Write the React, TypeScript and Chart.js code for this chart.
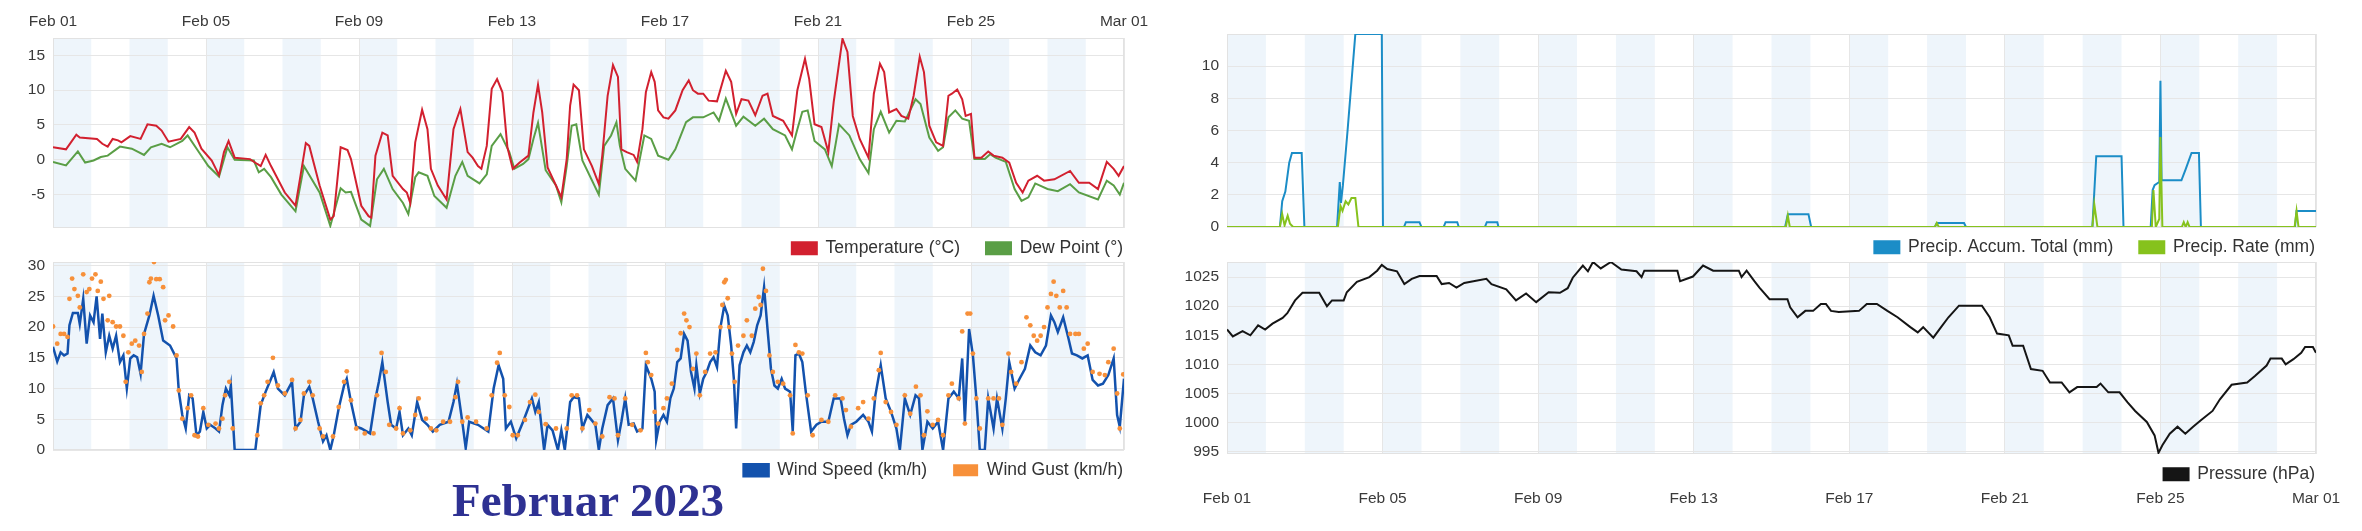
import React, { useEffect, useRef } from 'react';
import { Chart, registerables } from 'chart.js';

Chart.register(...registerables);

const FONT = "'Liberation Sans', Arial, Helvetica, sans-serif";
const TICK_COLOR = '#3a3a3a';
const GRID = '#e6e6e6';
const FRAME = '#e2e2e2';
const BAND = '#eef5fb';

const tickDays = [0, 4, 8, 12, 16, 20, 24, 28];
const dateLabels = ['Feb 01', 'Feb 05', 'Feb 09', 'Feb 13', 'Feb 17', 'Feb 21', 'Feb 25', 'Mar 01'];
const bandStarts = [0, 2, 4, 6, 8, 10, 12, 14, 16, 18, 20, 22, 24, 26];
const bandEnds = [1, 3, 5, 7, 9, 11, 13, 15, 17, 19, 21, 23, 25, 27];

const tempDays = [0, 0.34, 0.61, 0.70, 1.15, 1.29, 1.43, 1.56, 1.70, 1.79, 2.02, 2.29, 2.47, 2.70, 2.84, 3.02, 3.34, 3.56, 3.70, 3.88, 4.15, 4.34, 4.47, 4.59, 4.75, 5.15, 5.34, 5.43, 5.56, 5.70, 6.06, 6.34, 6.47, 6.61, 6.70, 6.97, 7.25, 7.34, 7.52, 7.70, 7.79, 8.06, 8.25, 8.32, 8.43, 8.61, 8.75, 8.88, 9.15, 9.25, 9.34, 9.47, 9.65, 9.79, 9.88, 10.06, 10.29, 10.47, 10.56, 10.65, 10.84, 10.97, 11.11, 11.2, 11.34, 11.47, 11.61, 11.75, 11.88, 12.02, 12.2, 12.43, 12.56, 12.68, 12.79, 12.93, 13.15, 13.29, 13.43, 13.52, 13.61, 13.75, 13.88, 14.09, 14.27, 14.36, 14.5, 14.64, 14.77, 14.86, 15.0, 15.18, 15.27, 15.41, 15.5, 15.64, 15.73, 15.82, 15.96, 16.09, 16.27, 16.46, 16.62, 16.73, 16.86, 17.0, 17.14, 17.36, 17.59, 17.73, 17.86, 18.0, 18.18, 18.36, 18.55, 18.68, 18.82, 19.09, 19.32, 19.46, 19.66, 19.77, 19.91, 20.09, 20.27, 20.41, 20.64, 20.77, 20.91, 21.09, 21.32, 21.46, 21.62, 21.73, 21.86, 22.05, 22.18, 22.36, 22.5, 22.66, 22.77, 22.91, 23.09, 23.27, 23.41, 23.5, 23.64, 23.77, 23.86, 24.0, 24.09, 24.27, 24.45, 24.59, 24.82, 25.0, 25.18, 25.35, 25.5, 25.73, 25.91, 26.18, 26.59, 26.82, 27.09, 27.32, 27.55, 27.73, 27.86, 28.0];
const tempValues = [1.8, 1.5, 3.6, 3.2, 3.0, 2.3, 1.9, 3.0, 2.8, 2.5, 3.4, 3.0, 5.1, 4.9, 4.2, 2.6, 3.0, 4.7, 3.9, 1.6, -0.1, -2.2, 1.1, 2.7, 0.3, 0.1, -0.6, -0.9, 0.7, -0.9, -4.7, -6.6, -2.3, 2.4, 2.0, -3.7, -8.6, -8.1, 1.8, 1.4, 0.1, -6.6, -8.1, -8.3, 0.6, 3.9, 3.5, -2.3, -4.2, -4.7, -6.2, 2.5, 7.2, 4.4, -1.3, -3.7, -5.7, 4.4, 5.9, 7.3, 1.1, 0.3, -0.9, -1.3, 2.0, 10.2, 11.6, 9.7, 1.8, -1.3, -0.4, 0.6, 6.8, 10.8, 6.8, -1.1, -3.7, -5.4, 0.1, 7.8, 10.8, 10.0, 1.5, -0.9, -3.5, 0.6, 9.2, 13.6, 11.9, 1.5, 1.1, 0.7, -0.3, 4.4, 9.7, 12.6, 11.2, 7.1, 6.1, 5.9, 7.1, 10.0, 11.4, 10.0, 9.5, 9.5, 8.5, 8.4, 12.8, 11.2, 6.6, 8.7, 8.5, 6.4, 9.2, 9.5, 6.3, 5.6, 3.5, 10.0, 14.5, 11.6, 5.1, 4.7, 1.1, 8.3, 17.4, 15.5, 6.3, 3.0, 0.3, 9.5, 13.8, 12.6, 6.8, 7.3, 6.3, 5.9, 9.2, 14.8, 12.6, 4.9, 2.5, 2.0, 9.2, 9.5, 10.1, 8.7, 6.3, 6.6, 0.3, 0.3, 1.2, 0.6, 0.3, -0.4, -3.3, -4.7, -3.0, -2.3, -3.0, -2.8, -1.6, -3.3, -3.3, -4.2, -0.3, -1.3, -2.3, -0.9];

const dewDays = [0, 0.34, 0.65, 0.84, 1.06, 1.25, 1.43, 1.75, 2.06, 2.38, 2.56, 2.84, 3.06, 3.38, 3.52, 3.79, 4.06, 4.34, 4.56, 4.75, 5.25, 5.38, 5.52, 5.7, 5.97, 6.34, 6.56, 6.97, 7.25, 7.52, 7.65, 7.79, 8.06, 8.29, 8.47, 8.65, 8.88, 9.15, 9.29, 9.47, 9.56, 9.79, 9.97, 10.29, 10.52, 10.7, 10.84, 11.15, 11.34, 11.47, 11.7, 11.93, 12.06, 12.29, 12.43, 12.56, 12.68, 12.88, 13.15, 13.29, 13.43, 13.56, 13.68, 13.84, 14.27, 14.41, 14.59, 14.73, 14.82, 14.96, 15.23, 15.46, 15.64, 15.82, 16.09, 16.27, 16.55, 16.73, 17.0, 17.27, 17.41, 17.59, 17.86, 18.05, 18.36, 18.59, 18.82, 19.14, 19.32, 19.46, 19.59, 19.73, 19.91, 20.18, 20.36, 20.55, 20.82, 21.09, 21.32, 21.46, 21.64, 21.86, 22.05, 22.27, 22.55, 22.68, 22.91, 23.14, 23.27, 23.41, 23.59, 23.77, 23.95, 24.09, 24.36, 24.5, 24.64, 24.91, 25.14, 25.32, 25.5, 25.68, 26.0, 26.27, 26.59, 26.82, 27.32, 27.55, 27.73, 27.89, 28.0];
const dewValues = [-0.3, -0.8, 1.2, -0.4, -0.1, 0.4, 0.6, 1.9, 1.6, 0.7, 1.8, 2.3, 1.8, 2.7, 3.5, 1.3, -0.9, -2.4, 1.8, 0.0, -0.1, -1.8, -1.3, -2.5, -5.0, -7.4, -0.9, -4.7, -9.5, -4.1, -4.7, -4.6, -8.6, -9.5, -2.8, -1.3, -4.2, -6.2, -7.8, -2.5, -1.8, -2.3, -5.2, -6.9, -2.3, -0.3, -2.3, -3.4, -2.1, 2.0, 3.7, 1.1, -1.3, -0.6, 0.1, 3.0, 5.3, -1.5, -3.7, -6.1, -0.9, 4.9, 5.1, -0.1, -5.0, 2.0, 3.5, 5.4, 2.0, -1.3, -3.0, 3.5, 3.0, 0.6, 0.0, 1.5, 5.4, 6.1, 6.1, 6.8, 5.6, 8.8, 4.9, 6.2, 4.9, 5.9, 4.4, 3.5, 1.5, 4.4, 6.9, 7.1, 2.7, 1.5, -0.9, 5.1, 3.5, 0.1, -1.9, 4.4, 6.9, 3.9, 5.6, 5.5, 8.7, 8.0, 3.2, 1.3, 1.8, 6.1, 7.1, 5.9, 5.6, 0.1, 0.1, 0.8, 0.3, -0.3, -4.2, -5.9, -5.4, -3.4, -4.2, -4.5, -3.5, -4.7, -5.7, -3.0, -3.7, -5.0, -3.3];

const windDays = [0, 0.11, 0.2, 0.29, 0.38, 0.43, 0.52, 0.65, 0.7, 0.79, 0.88, 0.97, 1.06, 1.14, 1.23, 1.29, 1.38, 1.47, 1.56, 1.65, 1.75, 1.84, 1.93, 2.02, 2.11, 2.2, 2.29, 2.38, 2.52, 2.63, 2.75, 2.88, 3.06, 3.23, 3.29, 3.38, 3.47, 3.56, 3.65, 3.75, 3.84, 3.93, 4.02, 4.11, 4.25, 4.34, 4.43, 4.52, 4.61, 4.65, 4.75, 5.29, 5.43, 5.56, 5.7, 5.77, 5.88, 6.06, 6.25, 6.34, 6.47, 6.56, 6.7, 6.79, 6.93, 7.06, 7.15, 7.25, 7.34, 7.47, 7.61, 7.68, 7.79, 7.93, 8.06, 8.29, 8.43, 8.52, 8.61, 8.75, 8.84, 8.97, 9.06, 9.15, 9.29, 9.38, 9.52, 9.65, 9.79, 9.93, 10.11, 10.34, 10.47, 10.56, 10.7, 10.79, 10.88, 11.11, 11.38, 11.52, 11.65, 11.77, 11.84, 11.97, 12.11, 12.29, 12.52, 12.61, 12.7, 12.84, 12.93, 13.06, 13.2, 13.29, 13.38, 13.52, 13.61, 13.75, 13.84, 13.97, 14.05, 14.18, 14.27, 14.36, 14.5, 14.64, 14.77, 14.86, 14.96, 15.05, 15.18, 15.27, 15.41, 15.5, 15.64, 15.73, 15.77, 15.86, 15.96, 16.05, 16.14, 16.23, 16.32, 16.41, 16.5, 16.59, 16.68, 16.77, 16.82, 16.91, 17.0, 17.09, 17.18, 17.27, 17.36, 17.45, 17.55, 17.64, 17.73, 17.8, 17.86, 17.95, 18.05, 18.14, 18.23, 18.32, 18.41, 18.5, 18.59, 18.68, 18.77, 18.86, 18.95, 19.05, 19.14, 19.27, 19.34, 19.41, 19.5, 19.59, 19.68, 19.82, 19.96, 20.09, 20.27, 20.41, 20.59, 20.68, 20.77, 20.86, 21.0, 21.18, 21.32, 21.41, 21.5, 21.64, 21.77, 21.91, 22.05, 22.14, 22.27, 22.41, 22.55, 22.64, 22.73, 22.86, 23.0, 23.14, 23.27, 23.41, 23.55, 23.68, 23.77, 23.84, 23.95, 24.05, 24.14, 24.23, 24.36, 24.45, 24.59, 24.68, 24.82, 24.91, 25.0, 25.14, 25.27, 25.41, 25.55, 25.68, 25.82, 25.96, 26.09, 26.18, 26.27, 26.41, 26.55, 26.64, 26.77, 26.91, 27.05, 27.18, 27.32, 27.45, 27.59, 27.73, 27.82, 27.89, 28.0];
const windValues = [16.8, 14.4, 15.9, 15.4, 15.7, 20.3, 22.3, 22.3, 20.5, 24.6, 17.3, 21.9, 20.8, 25.0, 18.1, 22.2, 15.9, 18.6, 16.5, 18.6, 14.3, 15.4, 10.0, 14.9, 15.4, 15.1, 12.4, 18.9, 21.9, 25.1, 21.9, 17.8, 17.0, 14.9, 9.5, 5.7, 3.5, 8.9, 8.4, 2.4, 3.0, 6.2, 3.5, 4.1, 3.5, 3.0, 7.3, 10.0, 8.9, 10.5, 0, 0, 7.3, 9.5, 11.6, 12.7, 10.0, 8.9, 11.1, 3.5, 4.6, 8.9, 10.3, 8.4, 4.6, 1.4, 2.4, 0, 2.4, 6.8, 10.5, 11.6, 7.8, 3.8, 3.5, 2.7, 8.4, 11.1, 14.3, 7.8, 4.1, 3.5, 6.2, 2.4, 3.5, 2.4, 7.8, 4.9, 4.1, 3.0, 4.1, 4.6, 7.8, 10.8, 4.6, 0.3, 4.6, 4.1, 3.0, 10.0, 13.8, 11.6, 3.5, 4.6, 1.9, 4.6, 8.4, 6.2, 7.8, 0, 4.1, 3.2, 0, 3.2, 0, 7.8, 8.6, 8.4, 3.5, 5.7, 5.1, 4.1, 0, 3.5, 7.3, 8.4, 1.6, 4.6, 8.4, 4.1, 4.3, 3.0, 3.5, 13.8, 11.6, 9.5, 1.6, 4.6, 5.7, 4.6, 8.4, 10.0, 14.3, 14.9, 18.9, 17.8, 12.7, 10.0, 13.8, 9.2, 11.6, 12.7, 14.3, 15.1, 13.5, 20.0, 23.5, 21.9, 17.0, 11.6, 3.5, 13.8, 15.9, 17.0, 15.9, 17.6, 20.3, 21.9, 26.5, 19.7, 13.2, 10.5, 10.0, 11.6, 10.0, 9.5, 3.0, 15.4, 15.7, 14.3, 9.5, 3.0, 4.1, 4.6, 4.6, 8.4, 8.4, 5.1, 2.4, 4.1, 4.6, 5.7, 4.6, 3.0, 8.9, 13.8, 8.4, 6.2, 3.5, 0, 8.4, 5.7, 8.9, 8.4, 0, 4.6, 3.5, 4.6, 0, 8.4, 9.5, 8.4, 14.9, 4.6, 19.7, 15.4, 8.4, 0, 0, 8.4, 3.5, 8.4, 3.5, 8.4, 14.3, 10.0, 11.6, 13.2, 17.0, 15.9, 15.4, 17.0, 21.9, 20.8, 19.2, 21.6, 18.1, 15.7, 15.4, 14.9, 15.4, 11.4, 10.5, 10.8, 12.2, 14.9, 5.7, 3.8, 11.6];

const gustDays = [0, 0.11, 0.2, 0.29, 0.38, 0.43, 0.5, 0.56, 0.65, 0.7, 0.79, 0.88, 0.95, 1.02, 1.11, 1.17, 1.25, 1.32, 1.43, 1.47, 1.56, 1.65, 1.75, 1.84, 1.9, 1.97, 2.06, 2.15, 2.25, 2.32, 2.38, 2.47, 2.52, 2.56, 2.64, 2.7, 2.79, 2.88, 2.93, 3.02, 3.14, 3.23, 3.29, 3.38, 3.52, 3.61, 3.7, 3.79, 3.93, 4.06, 4.25, 4.34, 4.43, 4.5, 4.61, 4.7, 5.34, 5.43, 5.52, 5.61, 5.75, 5.88, 6.06, 6.25, 6.34, 6.47, 6.56, 6.7, 6.79, 6.97, 7.06, 7.32, 7.47, 7.61, 7.68, 7.79, 7.93, 8.15, 8.38, 8.47, 8.59, 8.7, 8.79, 8.97, 9.06, 9.15, 9.34, 9.47, 9.56, 9.75, 9.88, 10.02, 10.2, 10.38, 10.52, 10.59, 10.7, 10.84, 11.06, 11.34, 11.47, 11.61, 11.68, 11.81, 11.93, 12.02, 12.15, 12.34, 12.47, 12.61, 12.7, 12.88, 13.15, 13.43, 13.56, 13.7, 13.84, 14.02, 14.18, 14.36, 14.55, 14.68, 14.77, 14.96, 15.14, 15.36, 15.5, 15.55, 15.64, 15.73, 15.82, 15.96, 16.05, 16.18, 16.32, 16.41, 16.5, 16.56, 16.64, 16.73, 16.82, 16.91, 17.05, 17.18, 17.32, 17.45, 17.5, 17.55, 17.59, 17.64, 17.68, 17.75, 17.82, 17.91, 18.05, 18.14, 18.27, 18.36, 18.45, 18.5, 18.56, 18.64, 18.73, 18.82, 18.95, 19.09, 19.27, 19.34, 19.41, 19.5, 19.59, 19.73, 19.86, 20.09, 20.27, 20.45, 20.64, 20.73, 20.86, 21.05, 21.18, 21.32, 21.46, 21.59, 21.64, 21.77, 21.91, 22.05, 22.27, 22.41, 22.56, 22.68, 22.77, 22.86, 23.0, 23.14, 23.27, 23.41, 23.5, 23.68, 23.77, 23.84, 23.91, 23.98, 24.05, 24.14, 24.23, 24.45, 24.59, 24.73, 24.82, 24.98, 25.05, 25.18, 25.32, 25.45, 25.55, 25.64, 25.73, 25.82, 25.91, 26.0, 26.09, 26.16, 26.23, 26.32, 26.41, 26.5, 26.59, 26.73, 26.82, 26.95, 27.05, 27.18, 27.36, 27.5, 27.59, 27.73, 27.82, 27.89, 27.98];
const gustValues = [20.1, 17.3, 18.9, 18.9, 18.4, 24.6, 27.9, 26.2, 25.1, 23.2, 28.6, 25.7, 26.2, 27.9, 28.6, 25.9, 27.4, 24.6, 21.1, 25.1, 20.8, 20.1, 20.1, 18.6, 11.1, 15.9, 17.3, 17.8, 17.0, 12.7, 18.9, 22.2, 27.3, 27.9, 30.6, 27.8, 27.8, 26.5, 21.1, 21.9, 20.1, 15.4, 9.7, 5.1, 6.8, 8.9, 2.4, 2.2, 6.8, 4.1, 4.3, 3.5, 5.1, 8.9, 11.1, 3.5, 2.4, 7.6, 8.9, 11.1, 15.0, 10.5, 9.2, 11.4, 3.5, 4.9, 9.2, 11.1, 8.9, 3.5, 2.2, 2.2, 7.0, 11.1, 12.8, 8.1, 3.5, 2.7, 2.7, 8.9, 15.8, 12.7, 4.1, 3.5, 6.8, 2.7, 3.2, 5.7, 8.4, 5.1, 3.5, 3.2, 4.6, 4.6, 8.6, 11.1, 4.6, 5.3, 4.6, 3.5, 8.9, 14.2, 15.8, 8.9, 7.0, 2.4, 2.4, 4.9, 7.8, 9.0, 6.2, 4.2, 3.5, 3.5, 8.9, 8.9, 3.5, 6.5, 4.3, 2.2, 8.6, 8.4, 2.4, 8.4, 4.1, 3.2, 15.8, 14.3, 12.2, 6.2, 4.3, 6.8, 8.4, 10.8, 16.3, 19.0, 22.2, 21.1, 20.0, 13.2, 15.7, 8.9, 12.7, 15.7, 15.9, 20.0, 23.6, 27.3, 27.7, 24.7, 20.0, 15.7, 11.1, 17.0, 18.6, 21.1, 18.6, 23.0, 24.9, 23.6, 29.5, 25.9, 15.4, 12.7, 11.1, 10.8, 8.9, 2.7, 17.1, 15.9, 15.7, 8.9, 2.4, 4.9, 4.6, 8.9, 8.4, 6.5, 3.8, 6.8, 7.8, 5.1, 8.4, 13.0, 15.8, 7.8, 6.2, 4.1, 8.9, 5.9, 10.3, 8.9, 2.4, 6.3, 4.1, 4.9, 2.4, 8.9, 10.8, 8.4, 19.3, 4.3, 22.2, 22.2, 15.7, 8.4, 3.5, 8.4, 8.4, 8.4, 4.1, 15.7, 12.7, 10.8, 14.3, 21.6, 20.3, 18.6, 17.8, 18.6, 20.0, 23.2, 25.4, 27.4, 25.1, 23.2, 25.9, 23.2, 18.9, 18.9, 18.9, 16.5, 17.3, 12.7, 12.4, 12.2, 14.3, 16.5, 9.2, 3.5, 12.3];

const accumDays = [0, 1.36, 1.42, 1.5, 1.6, 1.67, 1.92, 1.99, 2.83, 2.9, 2.93, 2.98, 3.1, 3.3, 3.98, 4.01, 4.55, 4.6, 4.95, 5.0, 5.57, 5.62, 5.92, 5.96, 6.63, 6.68, 6.95, 6.98, 14.35, 14.42, 14.95, 15.02, 18.2, 18.25, 18.95, 19.0, 22.25, 22.35, 23.0, 23.05, 23.75, 23.8, 23.85, 23.97, 24.0, 24.03, 24.08, 24.54, 24.65, 24.8, 24.99, 25.04, 27.46, 27.5, 28];
const accumValues = [0, 0, 1.6, 2.2, 4.0, 4.6, 4.6, 0, 0, 2.8, 1.5, 2.6, 6, 12, 12, 0, 0, 0.3, 0.3, 0, 0, 0.3, 0.3, 0, 0, 0.3, 0.3, 0, 0, 0.8, 0.8, 0, 0, 0.25, 0.25, 0, 0, 4.4, 4.4, 0, 0, 2.3, 2.6, 2.8, 9.1, 2.9, 2.9, 2.9, 3.6, 4.6, 4.6, 0, 0, 1.0, 1.0];

const rateDays = [0, 1.36, 1.42, 1.48, 1.56, 1.62, 1.7, 2.85, 2.92, 2.97, 3.05, 3.12, 3.2, 3.3, 3.38, 14.37, 14.42, 14.47, 18.2, 18.25, 18.3, 22.25, 22.3, 22.38, 23.78, 23.82, 23.88, 23.97, 24.0, 24.05, 24.55, 24.6, 24.65, 24.7, 24.75, 27.45, 27.5, 27.55, 28];
const rateValues = [0, 0, 0.8, 0.1, 0.7, 0.2, 0, 0, 1.3, 1.0, 1.6, 1.4, 1.8, 1.8, 0, 0, 0.7, 0, 0, 0.25, 0, 0, 1.4, 0, 0, 2.3, 0, 0.5, 5.6, 0, 0, 0.3, 0, 0.3, 0, 0, 1.0, 0, 0];

const pressureDays = [0, 0.15, 0.4, 0.6, 0.8, 0.98, 1.17, 1.43, 1.55, 1.75, 1.94, 2.37, 2.57, 2.7, 3.0, 3.08, 3.34, 3.66, 3.86, 3.98, 4.12, 4.37, 4.56, 4.75, 4.95, 5.39, 5.52, 5.71, 5.9, 6.1, 6.67, 6.8, 7.18, 7.43, 7.69, 7.95, 8.27, 8.56, 8.76, 8.89, 9.15, 9.28, 9.41, 9.61, 9.87, 10.14, 10.53, 10.66, 10.73, 11.58, 11.65, 11.98, 12.24, 12.5, 13.16, 13.23, 13.36, 13.56, 13.69, 13.95, 14.41, 14.48, 14.67, 14.87, 15.07, 15.27, 15.4, 15.53, 15.73, 16.25, 16.45, 16.71, 16.98, 17.24, 17.57, 17.76, 17.9, 18.16, 18.36, 18.55, 18.82, 19.41, 19.61, 19.8, 20.1, 20.2, 20.47, 20.67, 20.97, 21.16, 21.46, 21.66, 21.86, 22.36, 22.46, 22.66, 22.95, 23.15, 23.35, 23.65, 23.85, 23.95, 24.05, 24.24, 24.44, 24.64, 24.84, 25.04, 25.34, 25.53, 25.83, 26.23, 26.43, 26.73, 26.83, 27.12, 27.22, 27.42, 27.62, 27.72, 27.92, 28.0];
const pressureValues = [1016, 1014.8, 1015.7, 1015, 1016.7, 1016, 1017, 1018, 1018.8, 1021, 1022.3, 1022.3, 1020, 1021, 1021, 1022.4, 1024.2, 1025, 1026.1, 1027.1, 1026.4, 1026, 1023.8, 1024.7, 1025.2, 1025.2, 1023.8, 1024, 1023.2, 1024, 1024.7, 1023.8, 1022.9, 1021, 1022.2, 1020.7, 1022.4, 1022.3, 1023.1, 1024.9, 1027, 1026, 1027.6, 1026.5, 1027.6, 1026.3, 1026, 1025, 1026.1, 1026.1, 1024.3, 1025.1, 1027, 1026.1, 1026.1, 1025, 1026.1, 1024.3, 1023.2, 1021.2, 1021.2, 1019.8, 1018.1, 1019.2, 1019.2, 1020.4, 1020.4, 1019.2, 1019, 1019.2, 1020.4, 1020.4, 1019.2, 1018.1, 1016.4, 1015.5, 1016.4, 1014.6, 1016.4, 1018.1, 1020.1, 1020.1, 1018.1, 1015.3, 1015, 1013.2, 1013.2, 1009.2, 1008.9, 1006.9, 1006.9, 1005.2, 1006.1, 1006.1, 1006.7, 1005.2, 1005.2, 1003.5, 1002.0, 1000.1, 997.8, 994.8, 996.1, 998.1, 999.3, 998.1, 999.3, 1000.4, 1002, 1004, 1006.5, 1006.9, 1008.0, 1009.8, 1011, 1011, 1010, 1010.9, 1012.0, 1013, 1013, 1012];

const pts = (xs: number[], ys: number[]) => xs.map((x, i) => ({ x, y: ys[i] }));

// Legend text sits (legendOffset + 34.75) px below the plot bottom.
const decor = {
  id: 'decor',
  afterLayout(chart: any, _args: any, opts: any) {
    const lg = chart.legend;
    if (lg && opts && typeof opts.legendOffset === 'number') {
      const h = lg.bottom - lg.top;
      lg.top = chart.chartArea.bottom + opts.legendOffset;
      lg.bottom = Math.max(lg.bottom, lg.top + h);
    }
  },
  beforeDraw(chart: any) {
    const { ctx, chartArea: a } = chart;
    const xs = chart.scales.x;
    ctx.save();
    ctx.fillStyle = BAND;
    for (let i = 0; i < bandStarts.length; i++) {
      const x0 = xs.getPixelForValue(bandStarts[i]);
      const x1 = xs.getPixelForValue(bandEnds[i]);
      ctx.fillRect(x0, a.top, x1 - x0, a.bottom - a.top);
    }
    ctx.restore();
  },
  beforeDatasetsDraw(chart: any) {
    const { ctx, chartArea: a } = chart;
    ctx.save();
    ctx.strokeStyle = FRAME;
    ctx.lineWidth = 1;
    ctx.strokeRect(Math.round(a.left) + 0.5, Math.round(a.top) + 0.5, Math.round(a.right - a.left) - 1, Math.round(a.bottom - a.top) - 1);
    ctx.restore();
  },
};

const tickFont = { family: FONT, size: 15.5 };

function xAxis(position: string, height: number, showLabels: boolean, padding: number) {
  return {
    type: 'linear',
    position,
    min: 0,
    max: 28,
    afterBuildTicks: (s: any) => {
      s.ticks = tickDays.map((v) => ({ value: v }));
    },
    ticks: {
      display: showLabels,
      autoSkip: false,
      maxRotation: 0,
      padding,
      color: TICK_COLOR,
      font: tickFont,
      callback: (_v: any, i: number) => dateLabels[i],
    },
    grid: { color: GRID, drawTicks: false, lineWidth: 1 },
    border: { display: false },
    afterFit: (s: any) => {
      s.height = height;
      s.paddingLeft = 0;
      s.paddingRight = 0;
    },
  };
}

function yAxis(min: number, max: number, step: number, width: number, maxLabel?: number) {
  return {
    type: 'linear',
    position: 'left',
    min,
    max,
    afterBuildTicks: (s: any) => {
      if (maxLabel !== undefined) s.ticks = s.ticks.filter((t: any) => t.value <= maxLabel);
    },
    ticks: {
      stepSize: step,
      includeBounds: false,
      padding: 8,
      color: TICK_COLOR,
      font: tickFont,
      callback: (v: any) => String(v),
    },
    grid: { color: GRID, drawTicks: false, lineWidth: 1 },
    border: { display: false },
    afterFit: (s: any) => {
      s.width = width;
      s.paddingTop = 0;
      s.paddingBottom = 0;
    },
  };
}

const rightSpacer = {
  type: 'linear',
  position: 'right',
  display: true,
  ticks: { display: false },
  grid: { display: false },
  border: { display: false },
  afterFit: (s: any) => {
    s.width = 25;
    s.paddingTop = 0;
    s.paddingBottom = 0;
  },
};

const legendOpts = {
  position: 'bottom',
  align: 'end',
  labels: {
    boxWidth: 25,
    boxHeight: 12,
    padding: 26,
    color: '#333',
    font: { family: FONT, size: 17.5 },
    sort: (a: any, b: any) => a.datasetIndex - b.datasetIndex,
  },
};

function baseOptions(padding: any, scales: any) {
  return {
    responsive: false,
    animation: false,
    layout: { padding },
    scales,
    plugins: {
      legend: legendOpts,
      tooltip: { enabled: false },
      decor: { legendOffset: -14.5 },
    },
    elements: { line: { tension: 0 } },
  };
}

function lineSet(label: string, data: any, color: string, width: number, order = 0) {
  return {
    label,
    data,
    borderColor: color,
    backgroundColor: color,
    borderWidth: width,
    pointRadius: 0,
    order,
  };
}

const tempConfig = () => ({
  type: 'line',
  data: {
    datasets: [
      lineSet('Temperature (°C)', pts(tempDays, tempValues), '#d2202f', 2),
      lineSet('Dew Point (°)', pts(dewDays, dewValues), '#5a9e46', 2, 1),
    ],
  },
  options: baseOptions({ left: 0, right: 11, top: 0, bottom: 2.5 }, {
    x: xAxis('top', 38, true, 7),
    y: yAxis(-9.8, 17.5, 5, 53),
    yr: rightSpacer,
  }),
  plugins: [decor],
});

const windConfig = () => ({
  type: 'line',
  data: {
    datasets: [
      lineSet('Wind Speed (km/h)', pts(windDays, windValues), '#1352ad', 2.5, 1),
      {
        label: 'Wind Gust (km/h)',
        data: pts(gustDays, gustValues),
        showLine: false,
        borderColor: '#f7903a',
        backgroundColor: '#f7903a',
        pointBackgroundColor: '#f7903a',
        pointBorderWidth: 0,
        pointRadius: 2.4,
        borderWidth: 0,
        order: 0,
      },
    ],
  },
  options: baseOptions({ left: 0, right: 11, top: 22, bottom: 2.5 }, {
    x: xAxis('top', 0, false, 0),
    y: yAxis(0, 30.6, 5, 53),
    yr: rightSpacer,
  }),
  plugins: [decor],
});

const precipConfig = () => ({
  type: 'line',
  data: {
    datasets: [
      lineSet('Precip. Accum. Total (mm)', pts(accumDays, accumValues), '#1b8dc7', 2, 1),
      lineSet('Precip. Rate (mm)', pts(rateDays, rateValues), '#86c21d', 2, 0),
    ],
  },
  options: baseOptions({ left: 0, right: 11, top: 0, bottom: 3.5 }, {
    x: xAxis('top', 34, false, 0),
    y: yAxis(0, 12, 2, 57, 10),
    yr: rightSpacer,
  }),
  plugins: [decor],
});

const pressureConfig = () => ({
  type: 'line',
  data: {
    datasets: [lineSet('Pressure (hPa)', pts(pressureDays, pressureValues), '#151515', 2)],
  },
  options: baseOptions({ left: 0, right: 11, top: 22, bottom: 2.5 }, {
    x: xAxis('bottom', 60, true, 35),
    y: yAxis(994.6, 1027.6, 5, 57),
    yr: rightSpacer,
  }),
  plugins: [decor],
});

function Panel({ left, top, width, height, config }: any) {
  const ref = useRef<HTMLCanvasElement>(null);
  useEffect(() => {
    const chart = new Chart(ref.current as HTMLCanvasElement, config() as any);
    return () => chart.destroy();
  }, []);
  return (
    <canvas
      ref={ref}
      width={width}
      height={height}
      style={{ position: 'absolute', left, top, width, height }}
    />
  );
}

export default function App() {
  return (
    <div style={{ position: 'absolute', left: 0, top: 0, width: 2362, height: 531, background: '#fff' }}>
      <Panel left={0} top={0} width={1160} height={284} config={tempConfig} />
      <Panel left={0} top={240} width={1160} height={266} config={windConfig} />
      <Panel left={1170} top={0} width={1182} height={284} config={precipConfig} />
      <Panel left={1170} top={240} width={1182} height={330} config={pressureConfig} />
      <div
        style={{
          position: 'absolute',
          left: 388,
          top: 477,
          width: 400,
          textAlign: 'center',
          fontFamily: "'Liberation Serif', 'Times New Roman', serif",
          fontWeight: 'bold',
          fontSize: 47,
          lineHeight: '47px',
          color: '#2e3192',
        }}
      >
        Februar 2023
      </div>
    </div>
  );
}
